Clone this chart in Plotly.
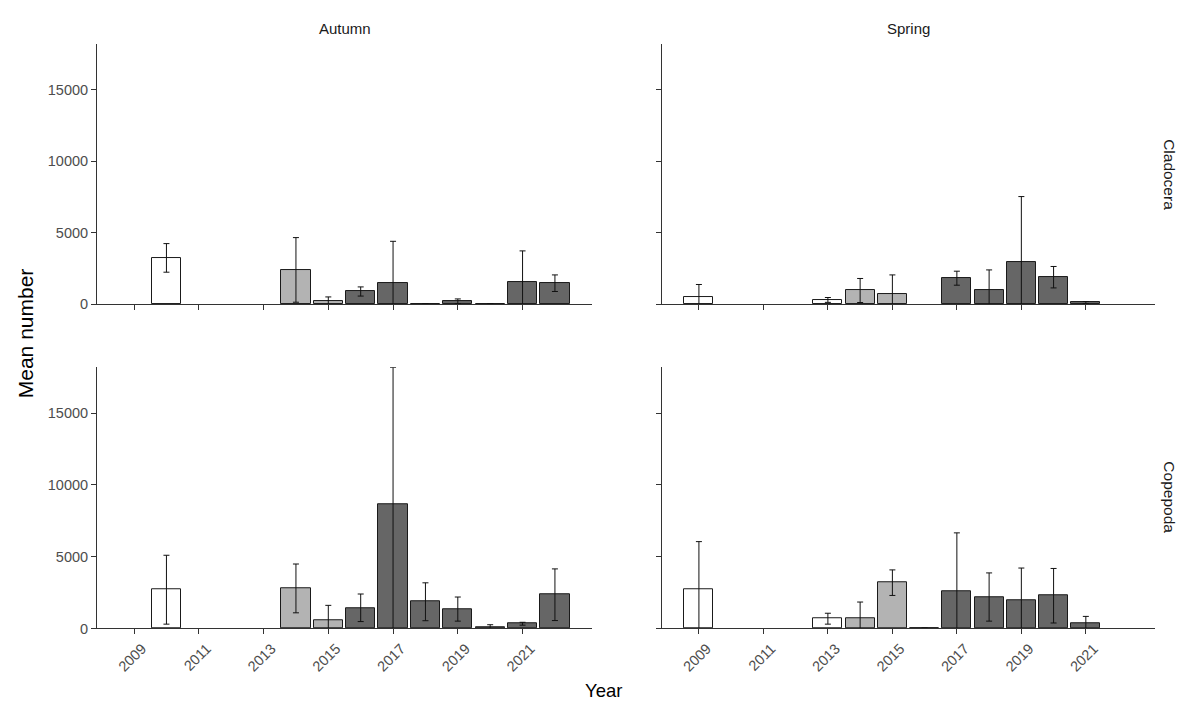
import plotly.graph_objects as go

# ---------------- data ----------------
aut_clad_years = [2010, 2014, 2015, 2016, 2017, 2018, 2019, 2020, 2021, 2022]
aut_clad_mean = [3240, 2400, 190, 890, 1470, 15, 210, 15, 1560, 1470]
aut_clad_sd = [1000, 2260, 320, 320, 2930, 15, 160, 15, 2170, 580]

spr_clad_years = [2009, 2013, 2014, 2015, 2017, 2018, 2019, 2020, 2021]
spr_clad_mean = [470, 300, 960, 700, 1820, 960, 2980, 1890, 120]
spr_clad_sd = [910, 170, 840, 1350, 490, 1440, 4550, 750, 70]

aut_cope_years = [2010, 2014, 2015, 2016, 2017, 2018, 2019, 2020, 2021, 2022]
aut_cope_mean = [2700, 2790, 540, 1440, 8680, 1860, 1350, 100, 330, 2350]
aut_cope_sd = [2400, 1700, 1070, 960, 9510, 1320, 840, 160, 100, 1800]

spr_cope_years = [2009, 2013, 2014, 2015, 2016, 2017, 2018, 2019, 2020, 2021]
spr_cope_mean = [2700, 680, 680, 3190, 15, 2610, 2190, 1930, 2280, 330]
spr_cope_sd = [3350, 380, 1160, 890, 15, 4050, 1680, 2280, 1900, 510]

x_tick_years = [2009, 2011, 2013, 2015, 2017, 2019, 2021]
y_ticks = [0, 5000, 10000, 15000]
seasons = ["Autumn", "Spring"]
taxa = ["Cladocera", "Copepoda"]

# ---------------- style ----------------
W, H = 1184, 704
H_EFF = 695.5          # effective rendered height used to place paper coords
FONT = "Liberation Sans, Arial, sans-serif"
AXIS_COL = "#333333"
TICK_TXT = "#4D4D4D"


def period_colour(year):
    if year <= 2013:
        return "#FFFFFF"
    if year <= 2015:
        return "#B3B3B3"
    return "#666666"


def fy(py):
    return 1 - py / H_EFF


panels = [
    (aut_clad_years, aut_clad_mean, aut_clad_sd, "x", "y"),
    (spr_clad_years, spr_clad_mean, spr_clad_sd, "x2", "y2"),
    (aut_cope_years, aut_cope_mean, aut_cope_sd, "x3", "y3"),
    (spr_cope_years, spr_cope_mean, spr_cope_sd, "x4", "y4"),
]

fig = go.Figure()
for yrs, mean, sd, xa, ya in panels:
    fig.add_trace(go.Bar(
        x=yrs, y=mean, width=0.9, xaxis=xa, yaxis=ya,
        marker=dict(color=[period_colour(v) for v in yrs],
                    line=dict(color="#1A1A1A", width=1)),
        error_y=dict(type="data", array=sd, symmetric=True,
                     color="#111111", thickness=1, width=3),
        showlegend=False, hoverinfo="x+y",
    ))

# panel geometry (pixels)
x_dom = [(97 / W, 592 / W), (662 / W, 1155 / W)]
y_dom = [(fy(304), fy(44)), (fy(628), fy(367))]
x_range = [2007.855, 2023.145]
y_range = [0, 18200]

axis_common = dict(showgrid=False, zeroline=False, showline=True,
                   linecolor=AXIS_COL, linewidth=1, ticks="outside",
                   ticklen=5, tickcolor=AXIS_COL, tickwidth=1,
                   tickfont=dict(family=FONT, size=14.5, color=TICK_TXT))

layout = {}
idx = 0
for r in range(2):
    for c in range(2):
        idx += 1
        sx = "" if idx == 1 else str(idx)
        layout["xaxis" + sx] = dict(
            axis_common, domain=x_dom[c], range=x_range,
            anchor="y" + sx, tickvals=x_tick_years,
            ticktext=[str(v) for v in x_tick_years] if r == 1 else [""] * len(x_tick_years),
            tickangle=-45, ticklabelshift=8, fixedrange=True)
        layout["yaxis" + sx] = dict(
            axis_common, domain=y_dom[r], range=y_range,
            anchor="x" + sx, tickvals=y_ticks,
            ticktext=[str(v) for v in y_ticks] if c == 0 else [""] * len(y_ticks),
            ticklabelstandoff=0, fixedrange=True)


def ann(text, px, py, size, color, angle=0):
    return dict(text=text, x=px / W, y=fy(py), xref="paper", yref="paper",
                xanchor="center", yanchor="middle", showarrow=False,
                textangle=angle, font=dict(family=FONT, size=size, color=color))


annotations = [
    ann(seasons[0], 345, 28, 15, "#1A1A1A"),
    ann(seasons[1], 908, 28, 15, "#1A1A1A"),
    ann(taxa[0], 1170, 174, 15.5, "#1A1A1A", 90),
    ann(taxa[1], 1170, 497, 15.5, "#1A1A1A", 90),
    ann("Mean number", 25, 333, 21, "#000000", -90),
    ann("Year", 603, 690, 18.5, "#000000"),
]

fig.update_layout(
    width=W, height=H, margin=dict(l=0, r=0, t=0, b=0),
    paper_bgcolor="white", plot_bgcolor="white",
    bargap=0, annotations=annotations, **layout,
)

fig.write_html("out.html", config={"displayModeBar": False},
               post_script="document.body.style.margin='0';document.body.style.overflow='hidden';")
